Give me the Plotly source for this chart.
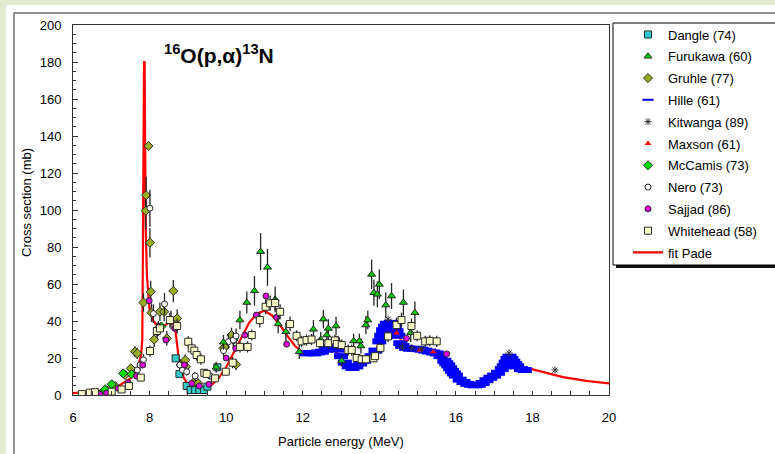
import plotly.graph_objects as go

# ---------------- data ----------------
fit_e = [6.0, 6.3, 6.6, 6.9, 7.2, 7.5, 7.7, 7.78, 7.81, 7.82, 7.835, 7.855, 7.87, 7.885, 7.9, 7.93, 7.97,
         8.0, 8.1, 8.2, 8.35, 8.5, 8.6, 8.68, 8.75, 8.8, 8.9, 9.0, 9.2, 9.4, 9.6, 9.8, 10.0, 10.2, 10.4,
         10.6, 10.8, 11.0, 11.2, 11.4, 11.6, 11.8, 12.0, 12.2, 12.4, 12.6, 12.8, 12.9, 13.1, 13.3, 13.5,
         13.7, 13.9, 14.05, 14.2, 14.35, 14.5, 14.6, 14.7, 15.0, 15.3, 15.5, 15.7, 15.9, 16.1, 16.3, 16.5,
         16.7, 16.9, 17.1, 17.3, 17.4, 17.5, 17.6, 17.8, 18.2, 18.8, 19.4, 20.0]
fit_y = [1.0, 1.2, 1.8, 3, 5, 9, 15, 22, 30, 58, 139, 180, 180, 120, 90, 65, 52,
         46, 40, 37.5, 37, 39, 39.5, 34, 22, 15, 9, 6, 4.5, 4, 5, 9, 15, 23, 31,
         39, 44, 45.5, 43, 38, 32, 26.5, 23, 22, 22.5, 24, 24.5, 23, 17.5, 15, 16.5,
         19.5, 24, 31, 37, 38, 33, 28, 25.5, 24.5, 24, 22.5, 19, 13, 8.5, 6, 5.5,
         6.5, 9, 12, 17, 17.5, 17, 16, 15, 12.6, 9.7, 7.6, 6.3]

dangle_e = [8.68, 8.78, 8.97, 9.07, 9.19, 9.3, 9.42, 9.51, 9.77]
dangle_y = [19.8, 11.4, 4.9, 2.7, 2.7, 2.7, 2.7, 4.5, 15]

furukawa_e = [6.53, 9.74, 9.93, 10.36, 10.54, 10.74, 10.9, 11.08, 11.28, 11.36, 11.56, 11.91, 12.28,
              12.47, 12.54, 12.63, 12.67, 12.87, 13.02, 13.33, 13.48, 13.52, 13.65, 13.7, 13.8, 13.86,
              13.95, 14.0, 14.17, 14.32, 14.63, 14.82, 14.93]
furukawa_y = [0.5, 15, 28.5, 40.5, 50, 56.3, 77.5, 69, 51.7, 38.4, 34.2, 23.4, 35.5,
              30, 41, 32.4, 36, 37.3, 18.5, 29.2, 29.2, 26.5, 37.8, 40.5, 65.2, 55.3,
              54.4, 59.8, 48.6, 53.5, 50, 33.7, 44.5]
furukawa_err = [0, 3, 4, 5, 6, 8, 10, 10, 7, 5, 5, 4, 5,
                4, 5, 4, 5, 5, 3, 4, 4, 4, 5, 5, 8, 7,
                7, 8, 7, 7, 7, 5, 6]

gruhle_e = [6.97, 7.1, 7.36, 7.51, 7.62, 7.68, 7.84, 7.9, 7.91, 7.97, 8.01, 8.03, 8.05, 8.12, 8.23,
            8.27, 8.38, 8.45, 8.56, 8.62, 8.72, 8.81, 8.93, 8.95, 9.14, 9.27, 9.93, 9.97, 10.14,
            10.19, 10.26]
gruhle_y = [3.6, 4.9, 10.8, 14.4, 23.4, 22.5, 50, 99.6, 108, 134.6, 82.3, 55.8, 44.5, 30, 36,
            45, 45, 30.6, 40.5, 56.2, 41.4, 16.2, 18.9, 15.3, 6.6, 6.3, 25.2, 26, 32.4,
            29.7, 16.5]
gruhle_err = [1, 1, 2, 2, 3, 3, 5, 10, 10, 0, 8, 6, 5, 4, 4,
              5, 5, 4, 5, 6, 5, 3, 3, 3, 2, 2, 3, 3, 4,
              4, 3]

hille_e = [12.1, 12.2, 12.3, 12.4, 12.5, 12.6, 12.7, 12.8, 12.9, 13.0, 13.1, 13.2, 13.3, 13.4, 13.5,
           13.6, 13.7, 13.8, 13.9, 14.0, 14.05, 14.1, 14.15, 14.2, 14.3, 14.4, 14.45, 14.5, 14.55,
           14.6, 14.7, 14.8, 14.9, 15.0, 15.1, 15.2, 15.3, 15.4, 15.5, 15.6, 15.7, 15.75, 15.8,
           15.85, 15.9, 15.95, 16.0, 16.1, 16.2, 16.3, 16.4, 16.5, 16.6, 16.7, 16.8, 16.9, 17.0,
           17.1, 17.2, 17.25, 17.3, 17.35, 17.4, 17.45, 17.5, 17.55, 17.6, 17.7, 17.8]
hille_y = [22.5, 22.7, 22.5, 23, 23.4, 24.5, 25.5, 26, 24.5, 21, 17.5, 15.5, 14.6, 15.5, 17,
           18.5, 19.8, 21, 24, 29, 32, 35, 37, 38.5, 39, 37, 34.5, 32, 28,
           26.5, 25.5, 25, 25, 24.8, 24.5, 24, 23.5, 23, 22.5, 21, 18.5, 17.2, 16,
           14.5, 13, 11.7, 10.5, 8.3, 7, 6, 5.5, 5.2, 5.5, 6.5, 8, 9.3, 10.5,
           12, 14, 15.5, 17.5, 19.5, 20.7, 19.5, 18, 16.8, 15.5, 14, 13.5]

kitwanga_e = [14.23, 14.6, 14.85, 15.1, 17.39, 18.59]
kitwanga_y = [41, 26, 25.5, 25, 22.7, 13.5]

maxson_e = [14.45, 15.06, 15.41]
maxson_y = [33.5, 24.3, 23.4]

mccamis_e = [6.79, 6.84, 7.01, 7.31, 7.53, 8.31]
mccamis_y = [1.8, 3.1, 5.8, 11.7, 11.2, 37]

nero_e = [7.68, 7.75, 7.84, 8.01, 8.1, 8.2, 8.39, 8.79, 8.86, 8.97, 9.19, 9.47, 9.58, 9.93, 10.06,
          10.19, 10.26]
nero_y = [13.5, 16.2, 19, 101, 44, 35, 49.2, 16.2, 13.5, 12.6, 10.3, 11.7, 10.3, 24, 28.8,
          29.7, 31.9]
nero_err = [2, 2, 3, 10, 5, 4, 6, 3, 3, 2, 2, 2, 2, 3, 4,
            4, 4]

sajjad_e = [6.7, 6.88, 7.18, 7.44, 7.66, 7.82, 7.99, 8.43, 8.66, 8.91, 9.1, 9.3, 9.55, 10.0, 10.25,
            10.49, 10.79, 11.04, 11.32, 11.58, 12.09, 12.89, 14.71, 15.76]
sajjad_y = [0.3, 1, 3.6, 6.6, 10.3, 16.2, 51, 29.7, 36, 16.2, 6.3, 4.9, 5.8, 20, 25.2,
            32.4, 43.2, 53.5, 42, 27.5, 30, 30, 30.6, 22.2]

whitehead_e = [6.23, 6.44, 6.57, 7.01, 7.27, 7.46, 7.77, 8.01, 8.19, 8.27, 8.53, 8.72, 9.01, 9.1,
               9.17, 9.23, 9.34, 9.43, 9.49, 9.71, 9.99, 10.17, 10.36, 10.56, 10.67, 10.88, 11.03,
               11.15, 11.28, 11.41, 11.67, 11.84, 11.97, 12.1, 12.23, 12.45, 12.67, 12.84, 12.89,
               13.02, 13.19, 13.28, 13.41, 13.54, 13.65, 13.85, 13.89, 14.03, 14.23, 14.45, 14.58,
               14.84, 14.99, 15.2, 15.32, 15.5]
whitehead_y = [0.5, 1.3, 1.5, 1.8, 3, 4.9, 9.4, 23.8, 34.6, 36, 40.5, 37.3, 28.8, 25.2,
               24, 21.6, 19.3, 12, 11.4, 9, 12.6, 17.5, 26, 26, 32.4, 40.5, 47.7,
               49.6, 49.7, 45, 38.4, 32, 29, 29.7, 30, 28, 28, 29.5, 27.6,
               27, 24.3, 24.3, 20, 19.3, 19.3, 19.8, 21, 25.5, 31.7, 37.8, 40.5,
               37.3, 32, 29, 29.3, 29]
whitehead_err = [0, 0, 0, 0, 1, 1, 2, 3, 3, 3, 4, 4, 3, 3,
                 3, 3, 3, 2, 2, 2, 2, 3, 3, 3, 3, 4, 4,
                 4, 4, 4, 4, 3, 3, 3, 3, 3, 3, 3, 3,
                 3, 3, 3, 2, 2, 2, 2, 2, 3, 3, 4, 4,
                 4, 3, 3, 3, 3]

# ---------------- figure ----------------
L, R, T, B = 73, 609, 25, 395
def px_x(p):
    return (p - L) / (R - L)
def px_y(p):
    return (B - p) / (B - T)

FONT = "Liberation Sans, Arial, sans-serif"
OUT = "#2a2a2a"
ERRC = "#262626"

fig = go.Figure()

fig.add_trace(go.Scatter(x=fit_e, y=fit_y, mode="lines", name="fit Pade",
                         line=dict(color="#ff0000", width=2.2),
                         legendrank=11, legendgroup="k"))

fig.add_trace(go.Scatter(x=hille_e, y=hille_y, mode="markers", name="Hille (61)", showlegend=False,
                         marker=dict(symbol="line-ew", size=10, line=dict(color="#0000ff", width=6)),
                         legendgroup="d"))
fig.add_trace(go.Scatter(x=[None], y=[None], mode="markers", name="Hille (61)",
                         marker=dict(symbol="line-ew", size=8, line=dict(color="#0000ff", width=2)),
                         legendrank=4, legendgroup="d"))

def pts(e, y, name, rank, grp, symbol, color, size=7, err=None):
    kw = {}
    if err is not None:
        kw["error_y"] = dict(type="data", array=err, visible=True, color=ERRC, thickness=1.3, width=0)
    fig.add_trace(go.Scatter(x=e, y=y, mode="markers", name=name, legendrank=rank, legendgroup=grp,
                             marker=dict(symbol=symbol, size=size, color=color,
                                         line=dict(color=OUT, width=1)), **kw))

pts(dangle_e, dangle_y, "Dangle (74)", 1, "a", "square", "#33cccc", 7)
pts(gruhle_e, gruhle_y, "Gruhle (77)", 3, "c", "diamond", "#9aab1e", 7, gruhle_err)
pts(mccamis_e, mccamis_y, "McCamis (73)", 7, "g", "diamond", "#00dd00", 7)
pts(nero_e, nero_y, "Nero (73)", 8, "h", "circle", "#ffffff", 6, nero_err)
pts(sajjad_e, sajjad_y, "Sajjad (86)", 9, "i", "circle", "#dd00dd", 6)
pts(furukawa_e, furukawa_y, "Furukawa (60)", 2, "b", "triangle-up", "#00cc00", 7, furukawa_err)
pts(whitehead_e, whitehead_y, "Whitehead (58)", 10, "j", "square", "#ffffcc", 7, whitehead_err)

fig.add_trace(go.Scatter(x=maxson_e, y=maxson_y, mode="markers", name="Maxson (61)", legendrank=6,
                         legendgroup="f",
                         marker=dict(symbol="triangle-up", size=6, color="#ff0000", line=dict(width=0))))
fig.add_trace(go.Scatter(x=kitwanga_e, y=kitwanga_y, mode="markers", name="Kitwanga (89)", legendrank=5,
                         legendgroup="e",
                         marker=dict(symbol="asterisk-open", size=6, color="#333333",
                                     line=dict(color="#333333", width=1))))

shapes = [
    dict(type="rect", xref="paper", yref="paper", x0=px_x(6), x1=px_x(800), y0=px_y(480), y1=px_y(5),
         fillcolor="white", line=dict(width=0), layer="below"),
    dict(type="rect", xref="paper", yref="paper", x0=px_x(14), x1=px_x(820), y0=px_y(490), y1=px_y(13),
         fillcolor="rgba(0,0,0,0)", line=dict(color="#6e6e6e", width=1.5), layer="below"),
    dict(type="rect", xref="paper", yref="paper", x0=px_x(616), x1=px_x(800), y0=px_y(268), y1=px_y(26),
         fillcolor="#111111", line=dict(width=0), layer="below"),
    dict(type="rect", xref="paper", yref="paper", x0=px_x(613), x1=px_x(800), y0=px_y(265), y1=px_y(23),
         fillcolor="white", line=dict(color="black", width=1), layer="below"),
]

annotations = [
    dict(xref="paper", yref="paper", x=px_x(162), y=px_y(54), xanchor="left", yanchor="middle",
         text="<b><sup>16</sup>O(p,α)<sup>13</sup>N</b>", showarrow=False,
         font=dict(family=FONT, size=21, color="black")),
    dict(xref="paper", yref="paper", x=px_x(341), y=px_y(441), xanchor="center", yanchor="middle",
         text="Particle energy (MeV)", showarrow=False, font=dict(family=FONT, size=13, color="black")),
    dict(xref="paper", yref="paper", x=px_x(26), y=px_y(203), xanchor="center", yanchor="middle",
         text="Cross section (mb)", textangle=-90, showarrow=False,
         font=dict(family=FONT, size=13, color="black")),
]

fig.update_layout(
    width=775, height=454,
    margin=dict(l=L, r=775 - R, t=T, b=454 - B),
    paper_bgcolor="#e2ebd0", plot_bgcolor="white",
    font=dict(family=FONT, size=13, color="black"),
    shapes=shapes, annotations=annotations,
    showlegend=True,
    legend=dict(x=px_x(628), y=px_y(19.5), xanchor="left", yanchor="top",
                bgcolor="rgba(0,0,0,0)", borderwidth=0, tracegroupgap=1.9, maxheight=320,
                font=dict(family=FONT, size=13, color="black")),
    xaxis=dict(range=[6, 20], tick0=6, dtick=2, ticks="inside", ticklen=4, tickcolor="#333",
               showline=True, linecolor="#333", linewidth=1, mirror=True, showgrid=False, zeroline=False,
               minor=dict(dtick=0.5, ticks="inside", ticklen=4, tickcolor="#333"),
               ticklabelstandoff=10, tickfont=dict(size=13)),
    yaxis=dict(range=[0, 200], tick0=0, dtick=20, ticks="inside", ticklen=5, tickcolor="#333",
               showline=True, linecolor="#333", linewidth=1, mirror=True, showgrid=False, zeroline=False,
               minor=dict(dtick=5, ticks="inside", ticklen=3, tickcolor="#333"),
               ticklabelstandoff=8, tickfont=dict(size=13)),
)

fig.write_html("out.html", config={"displayModeBar": False},
               post_script="document.body.style.margin='0';document.body.style.padding='0';")
